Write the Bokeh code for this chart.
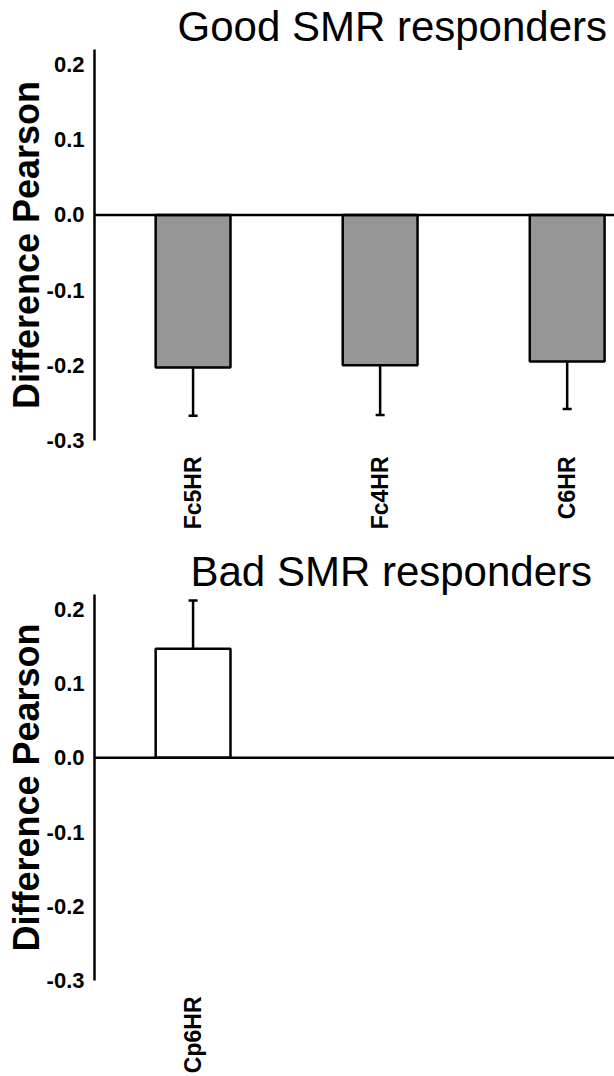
import math
from bokeh.plotting import figure
from bokeh.models import Range1d, FixedTicker, PrintfTickFormatter, Span, ColumnDataSource, Title
from bokeh.layouts import column
from bokeh.embed import file_html
from bokeh.resources import INLINE

good_title = "Good SMR responders"
good_labels = ["Fc5HR", "Fc4HR", "C6HR"]
good_means = [-0.203, -0.200, -0.195]
good_errors = [0.064, 0.066, 0.063]

bad_title = "Bad SMR responders"
bad_labels = ["Cp6HR"]
bad_means = [0.147]
bad_errors = [0.065]

y_ticks = [-0.3, -0.2, -0.1, 0.0, 0.1, 0.2]

FONT = "Liberation Sans"


def make_panel(title, labels, means, errors, fill, height, bottom_border, title_offset):
    xs = list(range(len(labels)))
    tips = [m + (e if m >= 0 else -e) for m, e in zip(means, errors)]
    src = ColumnDataSource(dict(x=xs, top=means, tip=tips))
    p = figure(width=614, height=height,
               x_range=Range1d(-0.527, 2.253), y_range=Range1d(-0.3, 0.22),
               output_backend="svg", toolbar_location=None,
               min_border_left=94, min_border_right=0,
               min_border_top=48, min_border_bottom=bottom_border)
    p.title = Title(text=title, align="left", offset=title_offset,
                    text_font_size="42px", text_font_style="normal",
                    text_font=FONT, text_color="black", standoff=0)
    p.outline_line_color = None
    p.xgrid.grid_line_color = None
    p.ygrid.grid_line_color = None
    p.background_fill_color = "white"
    p.border_fill_color = "white"

    p.add_layout(Span(location=0, dimension="width", line_color="black", line_width=2.5))

    p.segment(x0="x", y0="top", x1="x", y1="tip", source=src, line_color="black", line_width=2.5)
    p.dash(x="x", y="tip", source=src, size=9, line_color="black", line_width=2.5)
    p.vbar(x="x", width=0.4, bottom=0, top="top", source=src,
           fill_color=fill, line_color="black", line_width=2.5)

    xa = p.xaxis[0]
    xa.ticker = FixedTicker(ticks=xs)
    xa.major_label_overrides = {i: lab for i, lab in zip(xs, labels)}
    xa.major_label_orientation = math.pi / 2
    xa.axis_line_color = None
    xa.major_tick_line_color = None
    xa.minor_tick_line_color = None
    xa.major_label_standoff = 10
    xa.major_label_text_font = FONT
    xa.major_label_text_font_style = "bold"
    xa.major_label_text_font_size = "23px"
    xa.major_label_text_color = "black"

    ya = p.yaxis[0]
    ya.ticker = FixedTicker(ticks=y_ticks)
    ya.formatter = PrintfTickFormatter(format="%.1f")
    ya.axis_line_color = "black"
    ya.axis_line_width = 2.5
    ya.major_tick_line_color = None
    ya.minor_tick_line_color = None
    ya.major_label_standoff = 4
    ya.major_label_text_font = FONT
    ya.major_label_text_font_style = "bold"
    ya.major_label_text_font_size = "22px"
    ya.major_label_text_color = "black"
    ya.axis_label = "Difference Pearson"
    ya.axis_label_text_font = FONT
    ya.axis_label_text_font_style = "bold"
    ya.axis_label_text_font_size = "36px"
    ya.axis_label_text_color = "black"
    ya.axis_label_standoff = -3
    return p


top = make_panel(good_title, good_labels, good_means, good_errors,
                 "#969696", 545, 105, 83)
bottom = make_panel(bad_title, bad_labels, bad_means, bad_errors,
                    "white", 531, 92, 96)

layout = column(top, bottom, spacing=0)
open("out.html", "w").write(file_html(layout, INLINE))
